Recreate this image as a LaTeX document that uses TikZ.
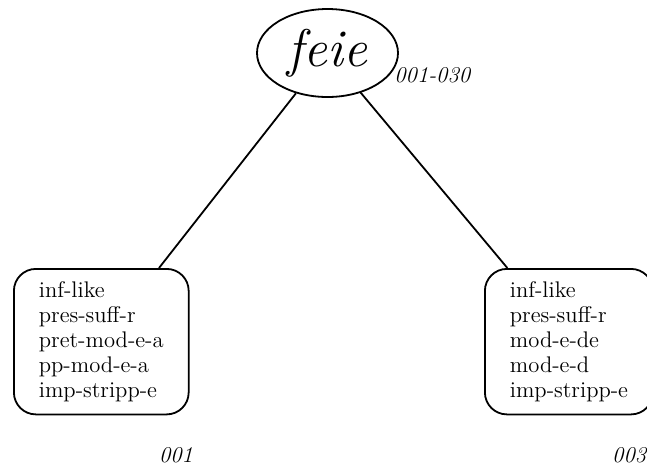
\documentclass[tikz,border=0pt]{standalone}
\usetikzlibrary{shapes.geometric}
\begin{document}
\begin{tikzpicture}[x=0.5pt,y=-0.5pt,
  every node/.style={font=\fontsize{11.3}{12.5}\selectfont},
  headnode/.style={ellipse,draw,line width=0.9pt,inner sep=0pt,
    minimum width=70.5pt,minimum height=44pt},
  featbox/.style={draw,line width=0.9pt,rounded corners=11pt,align=left,
    inner xsep=12.5pt,inner ysep=6.3pt,anchor=north west},
  idlabel/.style={font=\fontsize{11.3}{12.5}\selectfont\itshape,inner sep=0pt},
  link/.style={line width=0.9pt}]
  \useasboundingbox (0,0) rectangle (647,468);
  \clip (0,0) rectangle (647,468);

  % head of the tree
  \node[headnode] (root) at (327.5,53)
    {\fontsize{26.5}{30}\selectfont\itshape feie};
  \node[idlabel,anchor=west] (rootid) at (394,75) {001-030};

  % feature boxes of the two daughters
  \node[featbox] (left) at (13,268)
    {inf-like\\pres-suff-r\\pret-mod-e-a\\pp-mod-e-a\\imp-stripp-e};
  \node[idlabel] (leftid) at (176,455) {001};

  \node[featbox] (right) at (484,268)
    {inf-like\\pres-suff-r\\mod-e-de\\mod-e-d\\imp-stripp-e};
  \node[idlabel,anchor=east] (rightid) at (646.5,455) {003};

  % branches
  \draw[link] (root) -- (left);
  \draw[link] (root) -- (right);
\end{tikzpicture}
\end{document}
